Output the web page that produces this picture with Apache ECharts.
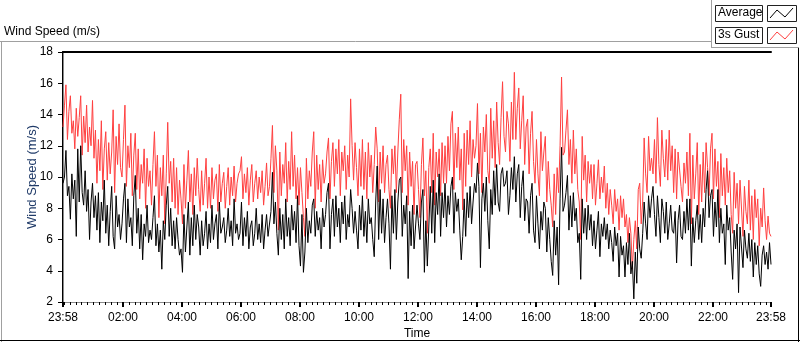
<!DOCTYPE html>
<html>
<head>
<meta charset="utf-8">
<script src="https://cdn.jsdelivr.net/npm/echarts@6.0.0/dist/echarts.min.js"></script>
<style>
html,body{margin:0;padding:0;background:#fff;}
#c{width:800px;height:342px;}
</style>
</head>
<body>
<div id="c"></div>
<script>
// minutes between samples (start 23:58)
const stepMinutes = 3;

// 3s Gust (m/s), one row per hour from 23:58
const gust = [
  13.2, 14.6, 15.9, 12.4, 14.2, 15.2, 12.8, 13.6, 11.8, 14.4, 12.6, 13.8, 15.2, 11.4, 13.9, 12.2, 14.6, 11.6, 13.2, 12.0,
  14.9, 11.2, 13.0, 9.6, 12.4, 10.4, 13.6, 9.2, 11.8, 12.9, 9.8, 12.2, 10.2, 11.6, 14.3, 9.0, 12.6, 10.8, 13.4, 10.6,
  10.0, 12.4, 14.6, 9.4, 12.0, 10.6, 12.8, 8.8, 11.4, 12.8, 9.2, 11.8, 8.6, 10.8, 9.6, 11.8, 8.0, 11.2, 9.4, 10.4,
  8.2, 10.8, 12.9, 9.4, 11.4, 7.4, 10.6, 8.8, 11.4, 7.0, 10.2, 13.5, 9.6, 11.0, 8.4, 11.2, 8.0, 10.6, 7.6, 9.8,
  8.6, 7.0, 10.8, 8.0, 9.8, 11.7, 8.4, 10.2, 7.6, 10.6, 8.8, 11.2, 9.2, 7.8, 10.4, 8.2, 9.6, 11.2, 8.0, 10.0,
  8.0, 10.6, 8.6, 9.8, 10.2, 7.8, 10.8, 8.4, 9.6, 10.3, 8.0, 9.4, 10.6, 8.2, 10.0, 8.8, 10.7, 8.4, 9.6, 10.2,
  10.4, 11.3, 8.6, 10.2, 9.0, 10.6, 8.2, 9.8, 10.8, 8.4, 9.6, 10.4, 8.6, 10.0, 9.0, 10.4, 8.2, 9.4, 10.9, 8.8,
  9.4, 11.2, 13.3, 9.0, 12.0, 10.4, 6.6, 11.6, 8.8, 10.8, 9.6, 12.2, 8.4, 11.0, 9.2, 12.9, 9.4, 11.4, 8.6, 10.6,
  8.2, 10.6, 9.0, 7.4, 6.2, 11.2, 8.6, 10.4, 9.4, 11.6, 12.9, 8.0, 11.4, 9.2, 10.8, 8.4, 11.1, 9.6, 10.2, 11.6,
  12.5, 8.6, 11.0, 12.2, 9.4, 11.8, 10.2, 12.4, 8.8, 11.6, 10.4, 12.0, 9.2, 11.4, 10.0, 15.0, 12.0, 9.8, 12.2, 10.6,
  8.8, 11.8, 9.4, 12.4, 9.2, 11.6, 8.6, 12.2, 10.0, 11.4, 9.0, 10.8, 13.2, 11.8, 8.4, 11.6, 9.6, 12.0, 9.0, 10.8,
  11.4, 9.2, 8.0, 11.8, 10.2, 12.0, 9.0, 11.6, 13.7, 15.3, 9.0, 12.4, 10.4, 12.0, 8.2, 11.6, 9.4, 11.0, 7.6, 10.8,
  11.0, 9.2, 7.4, 10.8, 12.5, 8.8, 10.4, 6.4, 10.6, 11.8, 9.0, 12.8, 8.2, 11.6, 10.0, 11.8, 8.8, 12.2, 9.6, 12.0,
  9.6, 12.6, 10.4, 13.4, 14.2, 9.2, 12.8, 10.6, 13.2, 9.8, 11.8, 7.9, 12.8, 9.4, 13.0, 10.8, 13.6, 10.0, 12.4, 11.2,
  12.0, 14.7, 10.2, 12.8, 9.0, 13.2, 11.6, 14.0, 10.4, 9.6, 14.4, 11.2, 13.6, 10.6, 14.8, 12.2, 10.8, 13.8, 16.1, 12.6,
  11.6, 14.2, 13.4, 11.0, 14.8, 12.4, 16.7, 12.4, 14.4, 15.7, 11.8, 13.6, 15.2, 10.8, 13.2, 13.7, 10.2, 12.8, 14.2, 11.0,
  9.6, 12.4, 10.2, 8.8, 12.9, 10.4, 11.6, 12.6, 8.4, 11.0, 9.2, 8.2, 6.8, 10.2, 7.6, 10.6, 9.0, 12.0, 16.4, 11.4,
  11.6, 13.0, 14.3, 10.8, 12.4, 9.6, 13.0, 10.2, 11.8, 9.2, 8.4, 6.0, 12.6, 9.8, 11.4, 8.4, 11.0, 9.6, 10.8, 8.6,
  10.8, 8.2, 9.6, 11.1, 8.6, 10.0, 9.0, 10.7, 8.0, 9.6, 7.6, 9.2, 8.2, 7.0, 9.2, 7.8, 8.6, 6.6, 8.8, 7.4,
  8.6, 6.8, 7.6, 5.8, 7.4, 6.4, 4.1, 6.0, 7.2, 5.4, 9.2, 9.6, 7.0, 8.4, 12.5, 10.2, 9.0, 12.6, 10.4, 11.2,
  10.2, 12.4, 9.6, 13.8, 10.8, 9.4, 13.0, 11.2, 10.0, 12.4, 9.8, 13.0, 10.4, 12.0, 9.0, 11.8, 8.6, 11.6, 11.5, 9.4,
  8.4, 10.9, 9.6, 11.6, 8.8, 12.8, 7.0, 11.4, 8.6, 10.2, 12.2, 7.6, 10.8, 8.4, 11.6, 9.0, 12.2, 10.6, 8.8, 11.8,
  12.8, 8.6, 11.8, 9.4, 11.0, 7.4, 11.5, 8.8, 10.6, 8.2, 11.2, 9.0, 10.4, 7.6, 6.4, 10.3, 8.0, 9.6, 7.0, 9.8,
  9.8, 6.2, 9.4, 7.8, 7.0, 9.8, 6.6, 8.8, 6.0, 9.2, 7.4, 8.6, 5.6, 8.0, 6.8, 9.3, 7.2, 6.0, 7.5, 6.4,
  6.2
];

// Average (m/s)
const avg = [
  9.6, 10.0, 11.7, 8.8, 9.4, 7.3, 10.2, 8.6, 9.8, 6.2, 11.8, 8.4, 12.0, 9.0, 8.2, 10.4, 7.8, 9.2, 6.0, 8.4,
  9.6, 7.4, 8.8, 6.6, 9.0, 5.8, 8.4, 7.2, 9.8, 6.4, 8.2, 5.6, 7.8, 9.4, 6.2, 5.4, 8.8, 6.8, 7.6, 6.0,
  7.0, 8.6, 9.6, 5.8, 8.6, 6.8, 7.4, 5.6, 8.8, 10.1, 6.4, 8.0, 5.4, 7.6, 4.7, 7.0, 6.2, 8.2, 5.8, 6.6,
  6.0, 7.4, 8.8, 5.6, 7.0, 5.2, 6.6, 4.1, 7.2, 6.0, 8.2, 9.4, 6.2, 8.0, 5.6, 7.2, 5.4, 7.4, 6.0, 5.0,
  5.4, 3.9, 7.6, 5.2, 6.8, 8.4, 5.0, 7.4, 5.6, 8.2, 6.0, 7.6, 6.8, 5.0, 7.2, 5.6, 6.4, 7.8, 5.4, 7.0,
  5.8, 8.2, 6.0, 7.0, 7.6, 5.4, 8.4, 6.4, 6.8, 7.4, 5.8, 6.6, 8.0, 6.2, 7.2, 5.6, 8.6, 6.4, 7.0, 6.0,
  6.4, 8.4, 5.6, 7.4, 6.2, 7.8, 5.4, 6.8, 7.2, 5.6, 6.4, 8.0, 6.0, 7.0, 5.8, 7.6, 5.4, 6.6, 7.6, 6.2,
  6.2, 7.8, 10.3, 7.0, 8.4, 6.4, 5.0, 8.0, 6.0, 7.6, 5.4, 8.6, 6.2, 7.4, 5.6, 8.2, 6.6, 7.8, 5.8, 8.8,
  5.6, 4.3, 7.6, 3.9, 5.2, 8.0, 5.8, 7.2, 6.4, 8.2, 8.6, 6.2, 7.8, 6.6, 7.4, 5.4, 8.0, 6.8, 7.6, 9.0,
  9.6, 5.4, 7.6, 8.6, 6.2, 8.8, 6.8, 8.0, 5.8, 8.4, 7.0, 8.8, 6.0, 7.6, 6.8, 9.2, 8.0, 6.4, 7.8, 6.6,
  5.4, 8.2, 6.6, 8.8, 6.2, 7.8, 5.8, 8.6, 7.0, 7.4, 6.0, 4.9, 8.4, 10.7, 6.0, 9.2, 6.4, 8.6, 5.8, 7.4,
  8.6, 7.0, 4.1, 8.8, 6.4, 9.2, 6.0, 8.4, 9.8, 10.0, 6.2, 8.2, 7.0, 8.8, 3.5, 7.8, 5.6, 8.2, 5.4, 6.8,
  8.2, 7.0, 6.0, 8.4, 9.2, 3.9, 7.2, 4.3, 6.8, 9.4, 6.4, 9.8, 5.8, 9.0, 7.6, 10.2, 6.2, 9.0, 7.4, 9.6,
  6.8, 8.8, 7.6, 9.4, 10.0, 6.4, 9.0, 7.8, 8.6, 6.6, 4.7, 6.2, 8.6, 6.2, 9.0, 7.4, 9.4, 7.0, 8.4, 9.6,
  9.0, 10.9, 9.4, 4.2, 8.6, 9.6, 7.8, 10.0, 7.2, 5.4, 9.2, 7.6, 10.4, 8.2, 10.8, 8.4, 7.8, 10.2, 10.6, 9.4,
  9.6, 10.4, 7.6, 8.8, 10.6, 9.2, 11.3, 8.4, 10.2, 10.8, 7.4, 9.4, 10.4, 7.2, 8.6, 8.4, 6.4, 8.8, 9.6, 6.6,
  5.8, 8.8, 7.0, 5.4, 7.8, 6.6, 8.4, 8.0, 5.2, 7.4, 6.0, 4.6, 3.7, 7.2, 5.0, 6.8, 3.1, 8.6, 11.9, 7.8,
  8.2, 9.0, 10.1, 6.6, 8.8, 6.8, 9.0, 7.2, 8.0, 5.8, 6.4, 3.45, 8.6, 6.4, 8.0, 6.0, 8.2, 6.6, 7.6, 5.6,
  7.2, 5.4, 6.6, 7.8, 4.9, 7.0, 6.2, 7.4, 6.0, 7.0, 5.4, 6.6, 5.8, 4.6, 6.8, 5.6, 6.4, 3.6, 6.2, 5.0,
  5.6, 3.6, 5.8, 4.4, 6.4, 3.8, 4.6, 2.2, 5.2, 3.2, 6.8, 5.4, 4.8, 6.4, 8.4, 7.0, 6.0, 8.8, 7.4, 8.6,
  9.4, 7.6, 6.2, 8.8, 7.4, 5.8, 8.6, 7.8, 6.4, 8.4, 6.0, 7.0, 8.2, 6.6, 6.4, 7.8, 4.5, 7.2, 8.2, 6.2,
  6.0, 7.8, 6.4, 8.6, 6.6, 8.6, 4.3, 7.4, 5.8, 7.2, 8.2, 6.0, 7.6, 5.8, 8.0, 6.8, 9.2, 10.4, 7.4, 8.8,
  9.2, 6.2, 8.4, 6.8, 9.2, 5.8, 8.0, 6.4, 7.0, 4.4, 8.2, 6.6, 7.4, 5.2, 3.45, 6.6, 5.4, 7.0, 2.6, 6.8,
  6.8, 4.2, 6.6, 5.4, 4.8, 6.4, 4.6, 6.0, 3.6, 5.8, 4.4, 5.6, 3.8, 3.0, 5.0, 5.6, 4.4, 5.2, 4.1, 5.8,
  4.4
];

// x tick labels and their positions (minutes after 23:58)
const tickLabels = ['23:58','02:00','04:00','06:00','08:00','10:00','12:00','14:00','16:00','18:00','20:00','22:00','23:58'];
const tickMinutes = [0,122,242,362,482,602,722,842,962,1082,1202,1322,1440];

const yMin = 2, yMax = 18, yStep = 2;
const xMin = 0, xMax = 1440;

// minor ticks every 12 clock minutes
const minorTicks = [];
for (let m = 2; m < xMax; m += 12) minorTicks.push(m);

const gustData = gust.map((v, i) => [i * stepMinutes, v]);
const avgData = avg.map((v, i) => [i * stepMinutes, v]);

const FONT = 'Liberation Sans';
const chart = echarts.init(document.getElementById('c'), null, {renderer: 'canvas'});

chart.setOption({
  animation: false,
  backgroundColor: '#ffffff',
  textStyle: {fontFamily: FONT},
  grid: {left: 63, top: 52, width: 708, height: 250, containLabel: false, outerBoundsMode: 'none'},
  xAxis: [
    {
      type: 'value', min: xMin, max: xMax, position: 'bottom',
      axisLine: {show: true, lineStyle: {color: '#8a8a8a', width: 1}},
      axisTick: {show: true, customValues: tickMinutes, length: 5, lineStyle: {color: '#000', width: 2}},
      axisLabel: {
        show: true, customValues: tickMinutes, margin: 10,
        fontFamily: FONT, fontSize: 12, color: '#000',
        formatter: function (v) { const i = tickMinutes.indexOf(Math.round(v)); return i >= 0 ? tickLabels[i] : ''; }
      },
      splitLine: {show: false},
      name: 'Time', nameLocation: 'middle', nameGap: 26, nameMoveOverlap: false,
      nameTextStyle: {fontFamily: FONT, fontSize: 12, color: '#000'}
    },
    {
      type: 'value', min: xMin, max: xMax, position: 'bottom',
      axisLine: {show: false},
      axisTick: {show: true, customValues: minorTicks, length: 3, lineStyle: {color: '#000', width: 1}},
      axisLabel: {show: false},
      splitLine: {show: false}
    },
    {
      type: 'value', min: xMin, max: xMax, position: 'top',
      axisLine: {show: true, lineStyle: {color: '#000', width: 2}},
      axisTick: {show: false}, axisLabel: {show: false}, splitLine: {show: false}
    }
  ],
  yAxis: [
    {
      type: 'value', min: yMin, max: yMax, interval: yStep, position: 'left',
      axisLine: {show: true, lineStyle: {color: '#000', width: 2}},
      axisTick: {show: true, length: 5, lineStyle: {color: '#000', width: 1}},
      axisLabel: {show: true, margin: 10, fontFamily: FONT, fontSize: 12, color: '#000'},
      splitLine: {show: false},
      name: 'Wind Speed (m/s)', nameLocation: 'middle', nameGap: 24, nameRotate: 90, nameMoveOverlap: false,
      nameTextStyle: {fontFamily: FONT, fontSize: 13, color: '#1f3a68'}
    },
    {
      type: 'value', min: yMin, max: yMax, interval: yStep, position: 'right',
      axisLine: {show: true, lineStyle: {color: '#8a8a8a', width: 1}},
      axisTick: {show: false}, axisLabel: {show: false}, splitLine: {show: false}
    }
  ],
  series: [
    {
      name: '3s Gust', type: 'line', xAxisIndex: 0, yAxisIndex: 0,
      data: gustData, showSymbol: false, symbol: 'none',
      lineStyle: {color: '#ff4040', width: 1}, itemStyle: {color: '#ff4040'}, z: 2
    },
    {
      name: 'Average', type: 'line', xAxisIndex: 0, yAxisIndex: 0,
      data: avgData, showSymbol: false, symbol: 'none',
      lineStyle: {color: '#000000', width: 1}, itemStyle: {color: '#000'}, z: 3
    }
  ],
  graphic: [
    // panel frame
    {type: 'line', shape: {x1: 0, y1: 41.5, x2: 711, y2: 41.5}, style: {stroke: '#a0a0a0', lineWidth: 1}, silent: true},
    {type: 'line', shape: {x1: 1.5, y1: 41.5, x2: 1.5, y2: 342}, style: {stroke: '#a0a0a0', lineWidth: 1}, silent: true},
    {type: 'line', shape: {x1: 0, y1: 340.5, x2: 800, y2: 340.5}, style: {stroke: '#000', lineWidth: 1}, silent: true},
    {type: 'line', shape: {x1: 798.5, y1: 47.5, x2: 798.5, y2: 342}, style: {stroke: '#000', lineWidth: 1}, silent: true},
    // legend panel
    {type: 'line', shape: {x1: 711.5, y1: 0, x2: 711.5, y2: 48}, style: {stroke: '#a0a0a0', lineWidth: 1}, silent: true},
    {type: 'line', shape: {x1: 711.5, y1: 47.5, x2: 799, y2: 47.5}, style: {stroke: '#a0a0a0', lineWidth: 1}, silent: true},
    // title
    {type: 'text', left: 4, top: 26, style: {text: 'Wind Speed (m/s)', fontFamily: FONT, fontSize: 12, fill: '#000'}},
    // legend entries
    {type: 'rect', shape: {x: 715.5, y: 5.5, width: 47, height: 16}, style: {fill: '#fff', stroke: '#222', lineWidth: 1}},
    {type: 'text', x: 718, y: 7, style: {text: 'Average', fontFamily: FONT, fontSize: 12, fill: '#000'}},
    {type: 'rect', shape: {x: 767.5, y: 5.5, width: 29, height: 16}, style: {fill: '#fff', stroke: '#222', lineWidth: 1}},
    {type: 'polyline', shape: {points: [[770, 18], [777, 10], [785, 17], [793, 8]]}, style: {stroke: '#000', lineWidth: 1, fill: null}},
    {type: 'rect', shape: {x: 715.5, y: 27.5, width: 47, height: 16}, style: {fill: '#fff', stroke: '#222', lineWidth: 1}},
    {type: 'text', x: 718, y: 29, style: {text: '3s Gust', fontFamily: FONT, fontSize: 12, fill: '#000'}},
    {type: 'rect', shape: {x: 767.5, y: 27.5, width: 29, height: 16}, style: {fill: '#fff', stroke: '#222', lineWidth: 1}},
    {type: 'polyline', shape: {points: [[770, 40], [777, 32], [785, 39], [793, 30]]}, style: {stroke: '#ff4040', lineWidth: 1, fill: null}}
  ]
});
</script>
</body>
</html>
